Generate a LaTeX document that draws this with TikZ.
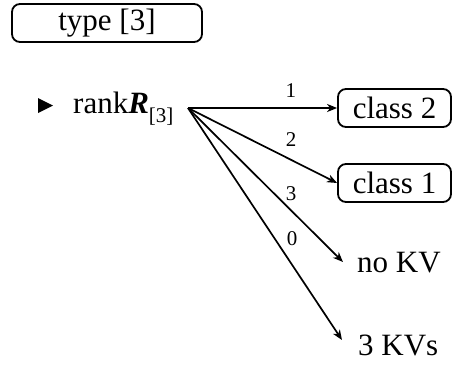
\documentclass[tikz,border=0pt]{standalone}
\usepackage{fontspec}
\setmainfont{Liberation Serif}
\usetikzlibrary{arrows.meta}
\begin{document}
\begin{tikzpicture}[x=1pt,y=-1pt,
  big/.style={font=\fontsize{31}{36}\selectfont},
  box/.style={big, draw, line width=1.8pt, rounded corners=8pt, minimum height=38pt, inner sep=0pt},
  txt/.style={big, inner sep=0pt},
  lbl/.style={inner sep=0pt, font=\fontsize{21}{24}\selectfont},
  arr/.style={line width=1.7pt, -{Stealth[length=10pt,width=8pt,inset=3pt]}}]
\useasboundingbox (0,0) rectangle (454,368);
% top box
\node (type) [box, minimum width=190pt] at (107,23) {type [3]};
% bullet and rank
\fill (38,98) -- (53,105.5) -- (38,113) -- cycle;
\node (rank) [txt, anchor=base west] at (73,113) {rank{\bfseries\itshape R}\raisebox{-9pt}{\fontsize{21}{24}\selectfont[3]}};
\coordinate (src) at (188,108);
% targets
\node (c2) [box, minimum width=113pt] at (394.5,108) {class 2};
\node (c1) [box, minimum width=113pt] at (394.5,183) {class 1};
\node (nokv) [txt, anchor=west] at (357,263) {no KV};
\node (kvs) [txt, anchor=west] at (358,345) {3 KVs};
% arrows
\draw[arr] (src) -- node[lbl, pos=0.69, yshift=17pt] (l1) {1} (c2.west);
\draw[arr] (src) -- node[lbl, pos=0.691, yshift=20pt] (l2) {2} (c1.west);
\draw[arr] (src) -- node[lbl, pos=0.665, yshift=17pt] (l3) {3} ([xshift=-14pt,yshift=1pt]nokv.west);
\draw[arr] (src) -- node[lbl, pos=0.565, xshift=17pt] (l0) {0} ([xshift=-16pt,yshift=5pt]kvs.west);
\end{tikzpicture}
\end{document}
